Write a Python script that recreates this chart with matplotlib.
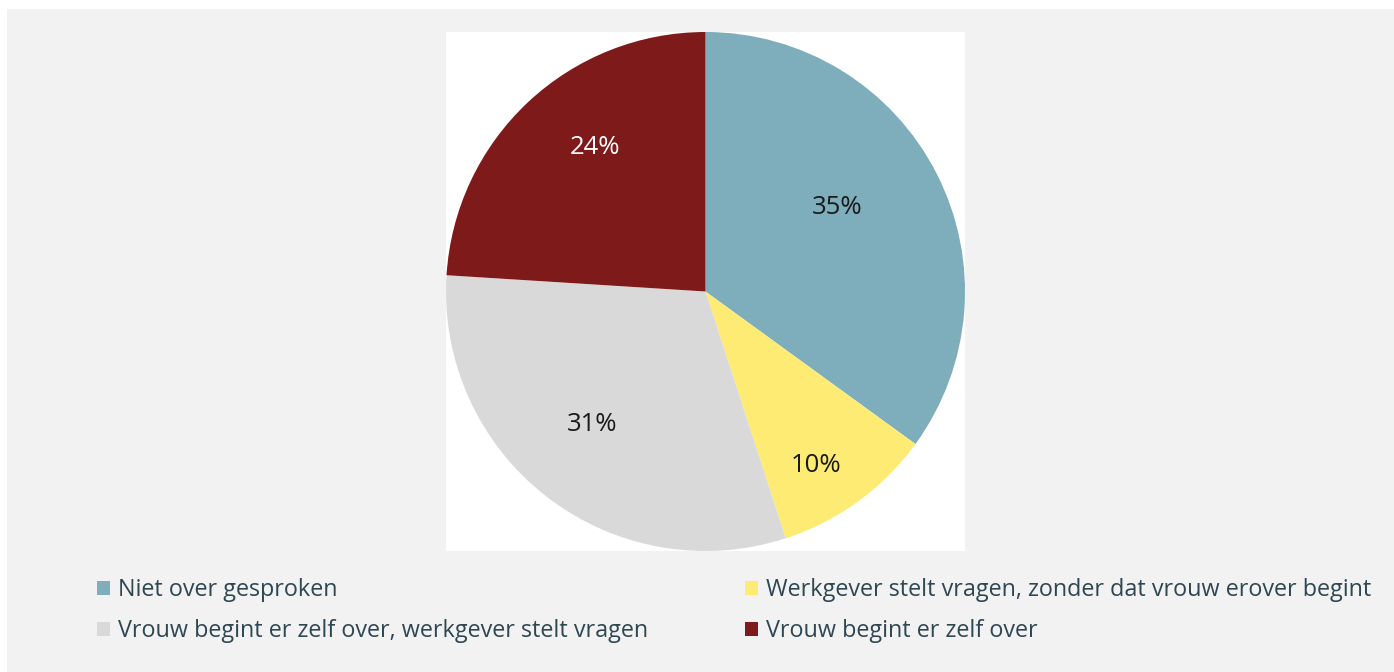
import numpy as np
import matplotlib.pyplot as plt
from matplotlib.patches import Rectangle, Patch

plt.rcParams['font.family'] = ['Open Sans', 'DejaVu Sans']

categories = ["Niet over gesproken",
              "Werkgever stelt vragen, zonder dat vrouw erover begint",
              "Vrouw begint er zelf over, werkgever stelt vragen",
              "Vrouw begint er zelf over"]
values = [35, 10, 31, 24]
colors = ['#7eadbb', '#fdeb74', '#d9d9d9', '#7f1a1a']
label_colors = ['#1a1a1a', '#1a1a1a', '#1a1a1a', 'white']
# label placement (fraction of radius, angle in degrees), as in the original
label_r = [0.608, 0.783, 0.666, 0.707]
label_ang = [33.5, -57.1, -131.0, 127.0]

W, H = 1394, 672
fig = plt.figure(figsize=(W/100, H/100), dpi=100)
fig.patch.set_facecolor('white')
fig.patches.append(Rectangle((7/W, 0), 1 - 7/W, (H-9)/H, transform=fig.transFigure,
                             facecolor='#f2f2f2', edgecolor='none', zorder=-1))

ax = fig.add_axes([446/W, (H-551)/H, 519/W, 519/H])
ax.set_zorder(1)
wedges, _ = ax.pie(values, colors=colors, startangle=90, counterclock=False,
                   radius=1, wedgeprops=dict(linewidth=0))
ax.set_frame_on(True)
ax.set_facecolor('white')
for v, r, a, c in zip(values, label_r, label_ang, label_colors):
    t = np.deg2rad(a)
    ax.annotate(f"{v}%", (r*np.cos(t), r*np.sin(t)), xytext=(0, -3),
                textcoords='offset pixels', ha='center', va='center',
                fontsize=18.5, color=c)
ax.set_xlim(-1, 1)
ax.set_ylim(-1, 1)
ax.set_xticks([])
ax.set_yticks([])
for s in ax.spines.values():
    s.set_visible(False)

handles = [Patch(facecolor=c, edgecolor='none') for c in colors]
leg_kw = dict(frameon=False, fontsize=16.8, handlelength=0.55, handleheight=0.55,
              handletextpad=0.35, labelspacing=0.72, borderpad=0, borderaxespad=0,
              labelcolor='#2e4753', loc='upper left')
leg1 = fig.legend([handles[0], handles[2]], [categories[0], categories[2]],
                  bbox_to_anchor=(97/W, 1 - 578/H), **leg_kw)
leg2 = fig.legend([handles[1], handles[3]], [categories[1], categories[3]],
                  bbox_to_anchor=(745/W, 1 - 578/H), **leg_kw)

fig.savefig('out.png', dpi=100, facecolor=fig.get_facecolor())
